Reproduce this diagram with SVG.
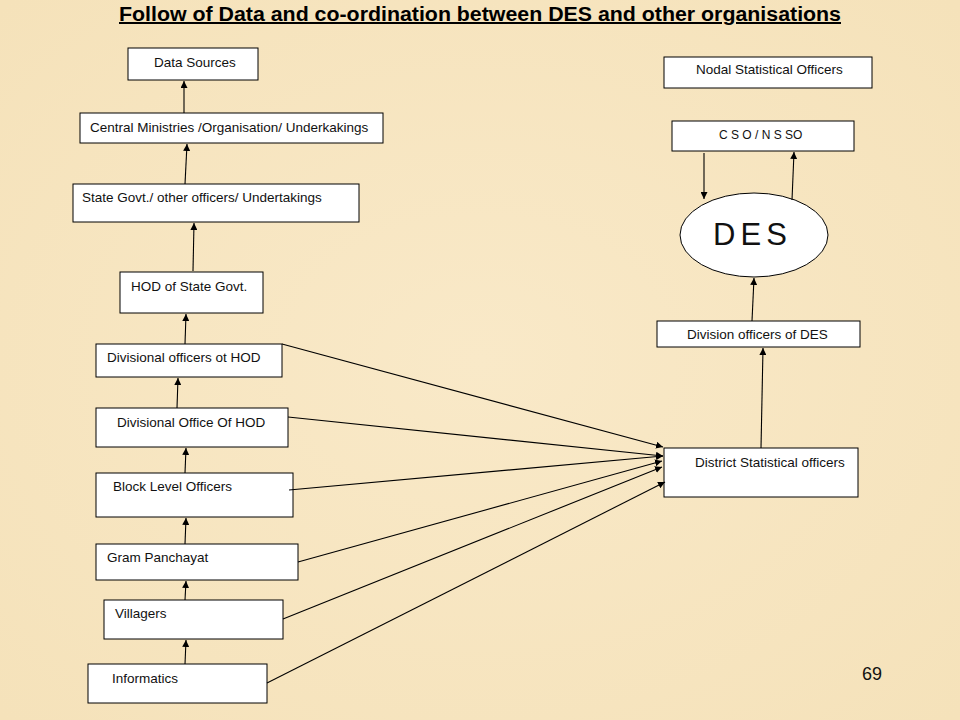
<svg xmlns="http://www.w3.org/2000/svg" width="960" height="720" viewBox="0 0 960 720">
<defs>
<marker id="ah" viewBox="0 0 10 10" refX="10" refY="5" markerWidth="7" markerHeight="7" markerUnits="userSpaceOnUse" orient="auto">
<path d="M0,0 L10,5 L0,10 z" fill="#000"/>
</marker>
<radialGradient id="bg" cx="50%" cy="50%" r="70%">
<stop offset="0" stop-color="#F9E9C8"/>
<stop offset="1" stop-color="#F5E2BA"/>
</radialGradient>
</defs>
<style>
.box{fill:#fff;stroke:#000;stroke-width:1}
.t{font-family:"Liberation Sans",Arial,sans-serif;font-size:13.5px;fill:#111}
.c line{stroke:#000;stroke-width:1.1;marker-end:url(#ah)}
</style>
<rect x="0" y="0" width="960" height="720" fill="url(#bg)"/>
<text x="480" y="21" text-anchor="middle" font-family="'Liberation Sans',Arial,sans-serif" font-size="20" font-weight="bold" text-decoration="underline" textLength="722" lengthAdjust="spacingAndGlyphs">Follow of Data and co-ordination between DES and other organisations</text>

<g id="n-data-sources"><rect class="box" x="128" y="48" width="130" height="32"/><text class="t" x="154" y="67">Data Sources</text></g>
<g id="n-central"><rect class="box" x="80" y="113" width="303" height="30"/><text class="t" x="90" y="132">Central Ministries /Organisation/ Underkakings</text></g>
<g id="n-state"><rect class="box" x="73" y="184" width="286" height="38"/><text class="t" x="82" y="202">State Govt./ other officers/ Undertakings</text></g>
<g id="n-hod"><rect class="box" x="120" y="272" width="143" height="41"/><text class="t" x="131" y="291">HOD of State Govt.</text></g>
<g id="n-div-officers"><rect class="box" x="96" y="344" width="186" height="33"/><text class="t" x="107" y="362">Divisional officers  ot HOD</text></g>
<g id="n-div-office"><rect class="box" x="96" y="408" width="192" height="39"/><text class="t" x="117" y="427">Divisional Office Of HOD</text></g>
<g id="n-block"><rect class="box" x="96" y="473" width="197" height="44"/><text class="t" x="113" y="491">Block Level Officers</text></g>
<g id="n-gram"><rect class="box" x="96" y="544" width="202" height="36"/><text class="t" x="107" y="562">Gram Panchayat</text></g>
<g id="n-villagers"><rect class="box" x="104" y="600" width="179" height="39"/><text class="t" x="115" y="618">Villagers</text></g>
<g id="n-informatics"><rect class="box" x="88" y="664" width="179" height="39"/><text class="t" x="112" y="683">Informatics</text></g>

<g id="n-nodal"><rect class="box" x="664" y="57" width="208" height="31"/><text class="t" x="696" y="74">Nodal Statistical Officers</text></g>
<g id="n-cso"><rect class="box" x="672" y="121" width="182" height="30"/><text class="t" x="719" y="139" style="font-size:12px">C S O / N S SO</text></g>
<g id="n-des"><ellipse cx="754" cy="235" rx="74" ry="42" fill="#fff" stroke="#000" stroke-width="1"/><text x="713" y="245" font-family="'Liberation Sans',Arial,sans-serif" font-size="31" fill="#111" textLength="74">D E S</text></g>
<g id="n-division-des"><rect class="box" x="657" y="321" width="203" height="26"/><text class="t" x="687" y="339">Division officers of DES</text></g>
<g id="n-district"><rect class="box" x="664" y="448" width="194" height="49"/><text class="t" x="695" y="467">District Statistical officers</text></g>

<g id="connectors" class="c">
<line x1="184" y1="113" x2="184" y2="81"/>
<line x1="185" y1="184" x2="187" y2="144"/>
<line x1="193" y1="271" x2="194" y2="223"/>
<line x1="185" y1="344" x2="186" y2="314"/>
<line x1="177" y1="408" x2="178" y2="378"/>
<line x1="185" y1="473" x2="186" y2="448"/>
<line x1="185" y1="544" x2="186" y2="518"/>
<line x1="185" y1="600" x2="186" y2="581"/>
<line x1="185" y1="664" x2="186" y2="640"/>
<line x1="282" y1="344" x2="663" y2="447"/>
<line x1="288" y1="417" x2="663" y2="456"/>
<line x1="289" y1="490" x2="663" y2="456"/>
<line x1="298" y1="562" x2="662" y2="461"/>
<line x1="283" y1="619" x2="662" y2="467"/>
<line x1="267" y1="683" x2="665" y2="482"/>
<line x1="704" y1="153" x2="704" y2="199"/>
<line x1="792" y1="200" x2="794" y2="152"/>
<line x1="752" y1="321" x2="754" y2="278"/>
<line x1="761" y1="448" x2="763" y2="348"/>
</g>
<text x="862" y="680" font-family="'Liberation Sans',Arial,sans-serif" font-size="18" fill="#111">69</text>
</svg>
